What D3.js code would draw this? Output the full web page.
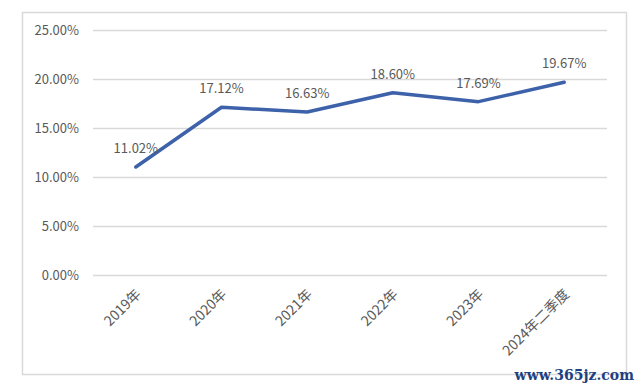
<!DOCTYPE html>
<html lang="zh">
<head>
<meta charset="UTF-8">
<title>Line chart</title>
<script src="https://d3js.org/d3.v7.min.js"></script>
<style>
    body { margin: 0; background: #fff; }
    svg { display: block; }
    text { font-family: "Noto Sans CJK SC", "Noto Sans", sans-serif; fill: #595959; }
</style>
</head>
<body>
<script>
    // data
    const categories = ["2019年", "2020年", "2021年", "2022年", "2023年", "2024年二季度"];
    const values = [11.02, 17.12, 16.63, 18.60, 17.69, 19.67];
    const yTicks = [0, 5, 10, 15, 20, 25];

    const width = 640, height = 391;
    const plot = { left: 93, right: 607, top: 30, bottom: 275 };

    const svg = d3.select("body").append("svg")
        .attr("width", width)
        .attr("height", height);

    // outer chart border
    svg.append("rect")
        .attr("x", 22.5).attr("y", 12.5)
        .attr("width", 604).attr("height", 362)
        .attr("fill", "none")
        .attr("stroke", "#d9d9d9")
        .attr("stroke-width", 1.5);

    const x = d3.scaleBand()
        .domain(categories)
        .range([plot.left, plot.right]);

    const y = d3.scaleLinear()
        .domain([0, 25])
        .range([plot.bottom, plot.top]);

    // gridlines + y labels
    const yAxis = d3.axisLeft(y)
        .tickValues(yTicks)
        .tickSize(-(plot.right - plot.left))
        .tickPadding(14)
        .tickFormat(d => d.toFixed(2) + "%");

    const gy = svg.append("g")
        .attr("transform", `translate(${plot.left},0)`)
        .call(yAxis);
    gy.select(".domain").remove();
    gy.selectAll(".tick line").attr("stroke", "#d9d9d9").attr("stroke-width", 1.5);
    gy.selectAll(".tick text")
        .attr("font-size", 13)
        .attr("fill", "#595959");

    // x labels, rotated
    const xAxis = d3.axisBottom(x).tickSize(0).tickPadding(0);
    const gx = svg.append("g")
        .attr("transform", `translate(0,${plot.bottom})`)
        .call(xAxis);
    gx.select(".domain").remove();
    gx.selectAll(".tick text")
        .attr("font-size", 14)
        .attr("fill", "#595959")
        .attr("text-anchor", "end")
        .attr("dy", 0)
        .attr("y", 0)
        .attr("transform", "translate(6,20) rotate(-45)");

    const pts = categories.map((c, i) => [x(c) + x.bandwidth() / 2, y(values[i])]);

    svg.append("path")
        .datum(pts)
        .attr("fill", "none")
        .attr("stroke", "#3d62a9")
        .attr("stroke-width", 3.5)
        .attr("stroke-linecap", "round")
        .attr("stroke-linejoin", "round")
        .attr("d", d3.line());

    // data labels
    svg.selectAll(".lbl")
        .data(values)
        .enter().append("text")
        .attr("class", "lbl")
        .attr("x", (d, i) => x(categories[i]) + x.bandwidth() / 2)
        .attr("y", d => y(d) - 14)
        .attr("text-anchor", "middle")
        .attr("font-size", 13)
        .attr("fill", "#404040")
        .text(d => d.toFixed(2) + "%");

    // watermark
    svg.append("text")
        .attr("x", 634)
        .attr("y", 380)
        .attr("text-anchor", "end")
        .attr("font-size", 14)
        .attr("font-weight", "bold")
        .style("font-family", "'DejaVu Serif', serif")
        .style("fill", "#1f3f7f")
        .text("www.365jz.com");
</script>
</body>
</html>
